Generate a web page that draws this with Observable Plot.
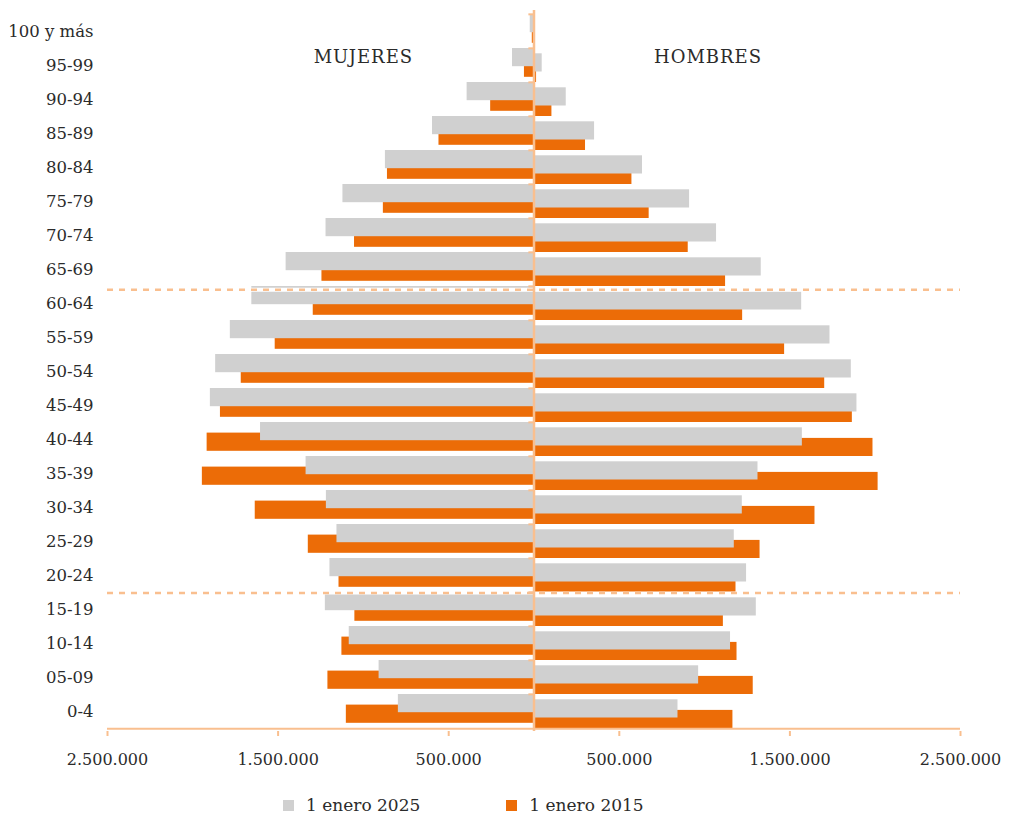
<!DOCTYPE html>
<html><head><meta charset="utf-8">
<script src="https://cdn.jsdelivr.net/npm/d3@7"></script>
<script src="https://cdn.jsdelivr.net/npm/@observablehq/plot@0.6"></script>
<style>
body{margin:0;background:#fff;font-family:"DejaVu Serif",serif;color:#2b2b2b}
#chart svg{display:block}
g[aria-label="text"] text{letter-spacing:1px}
.legend{height:26px;margin-top:7px;display:flex;align-items:center;padding-left:283px;font-size:17px;white-space:nowrap}
.sw{width:11px;height:11px;margin-right:12px;flex:none}
</style></head><body>
<div id="chart"></div>
<div class="legend" id="legend"></div>
<script>
// ---- data ----
const ageGroups = ["100 y más","95-99","90-94","85-89","80-84","75-79","70-74","65-69","60-64","55-59","50-54","45-49","40-44","35-39","30-34","25-29","20-24","15-19","10-14","05-09","0-4"];
const women2025 = [22000,126000,392000,595000,871000,1120000,1219000,1453000,1654000,1780000,1866000,1897000,1603000,1336000,1217000,1155000,1196000,1223000,1083000,908000,795000];
const women2015 = [10000,56000,254000,557000,859000,883000,1052000,1243000,1294000,1517000,1716000,1838000,1916000,1944000,1634000,1323000,1143000,1050000,1126000,1208000,1100000];
const men2025 = [4000,48000,189000,355000,636000,912000,1070000,1332000,1569000,1735000,1860000,1893000,1573000,1313000,1221000,1174000,1246000,1303000,1152000,965000,844000];
const men2015 = [3000,15000,105000,302000,574000,675000,904000,1123000,1223000,1469000,1704000,1866000,1987000,2017000,1647000,1325000,1184000,1110000,1190000,1285000,1166000];
const seriesNames = ["1 enero 2025","1 enero 2015"];
const xTicks = [-2500000,-1500000,-500000,500000,1500000,2500000];
const dividerGroups = ["60-64","15-19"];
const sideLabels = [{label:"MUJERES", x:-1000000, age:"95-99"},{label:"HOMBRES", x:1020000, age:"95-99"}];

// ---- styles ----
const GRAY = "#d0d0d0", ORANGE = "#ec6c07", PEACH = "#f9bf8f", TEXT = "#2b2b2b";
const H = 785, MT = 10, MB = 54;
const band = (H - MT - MB) / ageGroups.length;

const rows = ageGroups.map((age, i) => ({
  age, w25: -women2025[i], w15: -women2015[i], m25: men2025[i], m15: men2015[i]
}));
const loc = d3.formatLocale({decimal: ",", thousands: ".", grouping: [3], currency: ["", "€"]});
const fmt = loc.format(",");

const chart = Plot.plot({
  width: 1012, height: H, marginTop: MT, marginBottom: MB, marginLeft: 107, marginRight: 52,
  style: {fontFamily: "DejaVu Serif", fontSize: "16px", color: TEXT, background: "white"},
  x: {domain: [-2500000, 2500000], axis: null, label: null},
  y: {domain: ageGroups, padding: 0, axis: null, label: null},
  marks: [
    Plot.barX(rows, {y: "age", x1: 0, x2: "w15", fill: ORANGE, insetTop: 10.6, insetBottom: 5.2}),
    Plot.barX(rows, {y: "age", x1: 0, x2: "m15", fill: ORANGE, insetTop: 15.9, insetBottom: 0}),
    Plot.barX(rows, {y: "age", x1: 0, x2: "w25", fill: GRAY, insetTop: 0, insetBottom: 15.8}),
    Plot.barX(rows, {y: "age", x1: 0, x2: "m25", fill: GRAY, insetTop: 5.3, insetBottom: 10.5}),
    Plot.ruleY([dividerGroups[0]], {x1: -2500000, x2: 2500000, dy: -band/2 + 3.3, stroke: "white", strokeWidth: 4}),
    Plot.ruleY([dividerGroups[0]], {x1: -2500000, x2: 2500000, dy: -band/2 + 3.3, stroke: PEACH, strokeWidth: 2.5, strokeDasharray: "6,6"}),
    Plot.ruleY([dividerGroups[1]], {x1: -2500000, x2: 2500000, dy: -band/2 + 0.6, stroke: "white", strokeWidth: 3}),
    Plot.ruleY([dividerGroups[1]], {x1: -2500000, x2: 2500000, dy: -band/2 + 0.6, stroke: PEACH, strokeWidth: 2.5, strokeDasharray: "6,6"}),
    Plot.ruleX([0], {stroke: PEACH, strokeWidth: 2.5}),
    Plot.ruleY(ageGroups, {x1: -30000, x2: 0, dy: -band/2, stroke: PEACH, strokeWidth: 2}),
    Plot.ruleY([ageGroups[ageGroups.length - 1]], {x1: -2500000, x2: 2500000, dy: band/2, stroke: PEACH, strokeWidth: 2}),
    Plot.axisX(xTicks, {tickSize: 5, stroke: PEACH, strokeWidth: 2, fill: TEXT, tickFormat: d => fmt(Math.abs(d)), tickPadding: 17, fontSize: 16, label: null}),
    Plot.axisY({tickSize: 0, tickPadding: 14, fontSize: 16.5, fill: TEXT, label: null}),
    Plot.text(sideLabels, {x: "x", y: "age", text: "label", dy: -8, fontSize: 18, fill: TEXT})
  ]
});
document.getElementById("chart").append(chart);

const legend = document.getElementById("legend");
[[seriesNames[0], GRAY], [seriesNames[1], ORANGE]].forEach(([name, color], i) => {
  const sw = document.createElement("span");
  sw.className = "sw"; sw.style.background = color;
  if (i > 0) sw.style.marginLeft = "86px";
  const t = document.createElement("span");
  t.textContent = name;
  legend.append(sw, t);
});
</script>
</body></html>
